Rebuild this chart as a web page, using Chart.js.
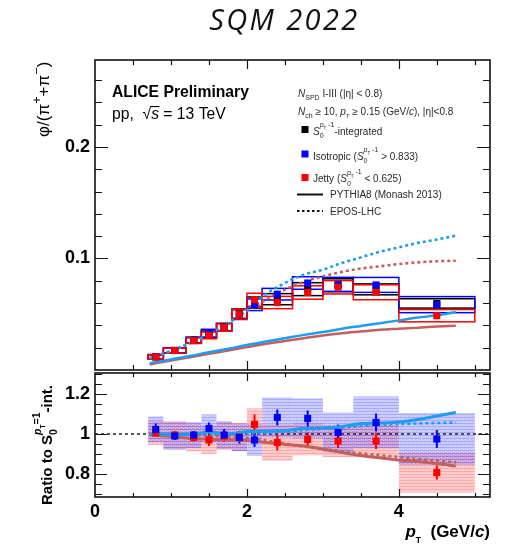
<!DOCTYPE html>
<html>
<head>
<meta charset="utf-8">
<title>phi/pi ratio vs pT</title>
<script src="https://cdn.jsdelivr.net/npm/chart.js@4.4.1/dist/chart.umd.min.js"></script>
<style>
  html, body { margin: 0; padding: 0; background: #fff; }
  #page { position: relative; width: 513px; height: 544px; overflow: hidden; }
  #heading { position: absolute; left: 0; top: 4px; width: 569px; text-align: center;
             font: italic 29px/29px "Open Sans", "DejaVu Sans", sans-serif; letter-spacing: 2.4px; color: #111; }
  canvas { position: absolute; left: 0; }
  #cTop { top: 0; }
  #cRatio { top: 372px; }
</style>
</head>
<body>
<div id="page">
  <canvas id="cTop" width="513" height="372"></canvas>
  <canvas id="cRatio" width="513" height="172"></canvas>
  <div id="heading">SQM 2022</div>
</div>
<script>
// pT bins (GeV/c) and the point positions inside them
const binLow  = [0.7, 0.9, 1.2, 1.4, 1.6, 1.8, 2.0, 2.2, 2.6, 3.0, 3.4, 4.0];
const binHigh = [0.9, 1.2, 1.4, 1.6, 1.8, 2.0, 2.2, 2.6, 3.0, 3.4, 4.0, 5.0];
const ptPoint = [0.8, 1.05, 1.3, 1.5, 1.7, 1.9, 2.1, 2.4, 2.8, 3.2, 3.7, 4.5];

// phi/(pi+ + pi-) yield ratio with systematic uncertainties
const integratedVal = [0.0117, 0.0176, 0.0268, 0.0320, 0.0385, 0.0505, 0.0605, 0.0635, 0.0725, 0.0760, 0.0723, 0.0597];
const integratedSys = [0.0018, 0.0022, 0.0025, 0.0030, 0.0033, 0.0042, 0.0050, 0.0050, 0.0058, 0.0058, 0.0049, 0.0042];
const isotropicVal  = [0.0120, 0.0175, 0.0267, 0.0330, 0.0383, 0.0497, 0.0585, 0.0680, 0.0780, 0.0768, 0.0763, 0.0586];
const isotropicSys  = [0.0019, 0.0023, 0.0027, 0.0035, 0.0034, 0.0044, 0.0052, 0.0052, 0.0056, 0.0063, 0.0067, 0.0072];
const jettyVal      = [0.0117, 0.0174, 0.0263, 0.0310, 0.0382, 0.0500, 0.0630, 0.0605, 0.0695, 0.0742, 0.0697, 0.0487];
const jettySys      = [0.0018, 0.0022, 0.0025, 0.0030, 0.0034, 0.0044, 0.0058, 0.0055, 0.0060, 0.0060, 0.0067, 0.0055];

// ratios to the S0-integrated class
const isoRatio     = [1.023, 0.990, 0.995, 1.028, 0.995, 0.983, 0.970, 1.083, 1.078, 1.008, 1.058, 0.975];
const isoRatioStat = [0.030, 0.020, 0.020, 0.030, 0.030, 0.030, 0.035, 0.040, 0.040, 0.040, 0.045, 0.045];
const isoRatioSys  = [0.065, 0.070, 0.065, 0.070, 0.070, 0.070, 0.080, 0.100, 0.100, 0.100, 0.130, 0.130];
const jetRatio     = [1.005, 0.995, 0.983, 0.970, 0.990, 0.985, 1.048, 0.957, 0.973, 0.965, 0.965, 0.807];
const jetRatioStat = [0.020, 0.020, 0.020, 0.030, 0.030, 0.030, 0.050, 0.040, 0.035, 0.035, 0.040, 0.035];
const jetRatioSys  = [0.060, 0.070, 0.070, 0.070, 0.070, 0.070, 0.080, 0.090, 0.080, 0.080, 0.080, 0.100];

// model predictions
const modelPt     = [0.72, 1.0, 1.25, 1.5, 1.75, 2.0, 2.25, 2.5, 2.75, 3.0, 3.25, 3.5, 3.75, 4.0, 4.25, 4.5, 4.75];
const pythiaIso   = [0.0060, 0.0095, 0.0125, 0.0160, 0.0190, 0.0225, 0.0255, 0.0285, 0.0315, 0.0340, 0.0370, 0.0395, 0.0420, 0.0445, 0.0470, 0.0490, 0.0520];
const pythiaJetty = [0.0050, 0.0085, 0.0115, 0.0145, 0.0175, 0.0205, 0.0235, 0.0260, 0.0285, 0.0310, 0.0330, 0.0345, 0.0360, 0.0370, 0.0380, 0.0390, 0.0397];
const eposIso     = [0.0105, 0.0170, 0.0240, 0.0320, 0.0420, 0.0540, 0.0680, 0.0780, 0.0855, 0.0900, 0.0960, 0.1010, 0.1060, 0.1100, 0.1140, 0.1170, 0.1205];
const eposJetty   = [0.0105, 0.0170, 0.0240, 0.0320, 0.0420, 0.0530, 0.0630, 0.0720, 0.0790, 0.0840, 0.0880, 0.0910, 0.0930, 0.0950, 0.0965, 0.0975, 0.0980];
const pythiaIsoRatio   = [1.000, 0.998, 0.997, 1.010, 1.000, 1.012, 1.014, 1.017, 1.027, 1.030, 1.038, 1.052, 1.055, 1.060, 1.072, 1.090, 1.108];
const pythiaJettyRatio = [0.995, 0.988, 0.978, 0.974, 0.972, 0.968, 0.958, 0.948, 0.940, 0.925, 0.908, 0.893, 0.881, 0.870, 0.862, 0.852, 0.840];
const eposIsoRatio     = [1.000, 1.000, 1.000, 1.000, 1.001, 1.003, 1.006, 1.012, 1.020, 1.026, 1.032, 1.040, 1.045, 1.050, 1.053, 1.055, 1.057];
const eposJettyRatio   = [1.000, 0.998, 0.995, 0.992, 0.988, 0.980, 0.968, 0.952, 0.937, 0.925, 0.914, 0.903, 0.894, 0.885, 0.875, 0.866, 0.858];

// axis ranges and labelled ticks
const ptRange = [0, 5.2];
const unityRef = 1;
const xTickLabels = [0, 2, 4];
const yTickLabelsTop = [0.1, 0.2];
const yTickLabelsRatio = [0.8, 1, 1.2];

const FONT = '"Liberation Sans", Arial, Helvetica, sans-serif';
const LBLUE = '#1f9bef';
const BROWN = '#c2605e';
const pts = (xs, ys) => xs.map((x, i) => ({ x, y: ys[i] }));
const near = (v, list) => list.find(t => Math.abs(t - v) < 1e-6);
// only the listed values get a label
const labelFrom = list => v => { const t = near(v, list); return t === undefined ? null : String(t); };
// fixed axis thickness, no extra room reserved for end labels
const fixWidth = w => s => { s.width = w; s.paddingTop = 0; s.paddingBottom = 0; };
const fixHeight = h => s => { s.height = h; s.paddingLeft = 0; s.paddingRight = 0; };

// draws a run of text pieces with sub/superscripts, returns the width
function richText(ctx, x, y, parts, size, measureOnly) {
  let cx = x;
  for (const [text, o = {}] of parts) {
    const s = size * (o.sc || 1);
    ctx.font = (o.it ? 'italic ' : '') + (o.b ? 'bold ' : '') + s + 'px ' + FONT;
    const w = ctx.measureText(text).width;
    if (!measureOnly) ctx.fillText(text, cx, y + (o.dy || 0) * size);
    if (!o.keep) cx += w;
  }
  return cx - x;
}

// frame with inward ticks on all four sides
function frameTicks(cfg) {
  return {
    id: 'frameTicks',
    afterDatasetsDraw(chart) {
      const { ctx, chartArea: a, scales: { x, y } } = chart;
      ctx.save();
      ctx.strokeStyle = '#111';
      ctx.lineWidth = 1.2;
      ctx.beginPath();
      for (let k = 0; k * cfg.xStep <= x.max + 1e-9; k++) {
        const px = Math.round(x.getPixelForValue(k * cfg.xStep)) + 0.5;
        if (px <= a.left + 1 || px >= a.right - 1) continue;
        const L = (k % cfg.xEvery === 0) ? cfg.xLong : cfg.xShort;
        ctx.moveTo(px, a.bottom); ctx.lineTo(px, a.bottom - L);
        ctx.moveTo(px, a.top); ctx.lineTo(px, a.top + L);
      }
      const k0 = Math.ceil(y.min / cfg.yStep - 1e-9);
      for (let k = k0; k * cfg.yStep <= y.max + 1e-9; k++) {
        const py = Math.round(y.getPixelForValue(k * cfg.yStep)) + 0.5;
        if (py <= a.top + 1 || py >= a.bottom - 1) continue;
        const L = (k % cfg.yEvery === 0) ? cfg.yLong : cfg.yShort;
        ctx.moveTo(a.left, py); ctx.lineTo(a.left + L, py);
        ctx.moveTo(a.right, py); ctx.lineTo(a.right - L, py);
      }
      ctx.stroke();
      ctx.lineWidth = 1.6;
      ctx.strokeRect(a.left, a.top, a.right - a.left, a.bottom - a.top);
      ctx.restore();
    }
  };
}

// systematic boxes and statistical bars behind the markers
function uncertainties(groups) {
  return {
    id: 'uncertainties',
    beforeDatasetsDraw(chart) {
      const { ctx, chartArea: a, scales: { x, y } } = chart;
      ctx.save();
      ctx.beginPath();
      ctx.rect(a.left, a.top, a.right - a.left, a.bottom - a.top);
      ctx.clip();
      for (const g of groups) {
        const fill = g.fill ? g.fill(ctx) : null;
        g.val.forEach((v, i) => {
          const x0 = x.getPixelForValue(binLow[i]), x1 = x.getPixelForValue(binHigh[i]);
          const y0 = y.getPixelForValue(v + g.sys[i]), y1 = y.getPixelForValue(v - g.sys[i]);
          if (fill) { ctx.fillStyle = fill; ctx.fillRect(x0, y0, x1 - x0, y1 - y0); }
          if (g.stroke) {
            ctx.strokeStyle = g.stroke; ctx.lineWidth = 1.5;
            ctx.strokeRect(x0, y0, x1 - x0, y1 - y0);
          }
        });
      }
      for (const g of groups) {
        if (!g.stat) continue;
        ctx.strokeStyle = g.barColor; ctx.lineWidth = 2;
        ctx.beginPath();
        g.val.forEach((v, i) => {
          const px = x.getPixelForValue(ptPoint[i]);
          ctx.moveTo(px, y.getPixelForValue(v + g.stat[i]));
          ctx.lineTo(px, y.getPixelForValue(v - g.stat[i]));
        });
        ctx.stroke();
      }
      ctx.restore();
    }
  };
}

function texture(r, g, b, alpha) {
  return ctx => {
    const c = document.createElement('canvas');
    c.width = 4; c.height = 3;
    const t = c.getContext('2d');
    t.fillStyle = `rgba(${r},${g},${b},${alpha})`;
    t.fillRect(0, 0, 4, 3);
    t.fillStyle = `rgba(${r},${g},${b},${alpha * 0.8})`;
    t.fillRect(0, 0, 4, 1);
    t.fillStyle = 'rgba(255,255,255,0.35)';
    t.fillRect(1, 1, 1, 1); t.fillRect(3, 2, 1, 1);
    return ctx.createPattern(c, 'repeat');
  };
}

const curve = (label, xs, ys, color, dotted, w) => ({
  label, data: pts(xs, ys), showLine: true, borderColor: color, borderWidth: w,
  borderDash: dotted ? [3, 3] : [], pointRadius: 0, cubicInterpolationMode: 'monotone', fill: false
});
const markers = (label, xs, ys, color) => ({
  label, data: pts(xs, ys), showLine: false, pointStyle: 'rect', pointRadius: 5, pointHoverRadius: 5,
  backgroundColor: color, borderColor: color, borderWidth: 0
});

// labels and legend of the upper panel
const topTexts = {
  id: 'topTexts',
  afterDraw(chart) {
    const ctx = chart.ctx;
    ctx.save();
    ctx.fillStyle = '#000';
    ctx.textBaseline = 'alphabetic';
    richText(ctx, 112, 97, [['ALICE Preliminary', { b: 1 }]], 15.7);
    const w1 = richText(ctx, 112, 118.5, [['pp,  √']], 15.7);
    const w2 = richText(ctx, 112 + w1, 118.5, [['s', { it: 1 }]], 15.7);
    ctx.fillRect(112 + w1 - 1, 106, w2 + 1.5, 1.1);
    richText(ctx, 112 + w1 + w2, 118.5, [[' = 13 TeV']], 15.7);

    ctx.fillStyle = '#2a2a2a';
    const S0 = [['S', { it: 1 }], ['0', { sc: 0.7, dy: 0.35, keep: 1 }], ['p', { it: 1, sc: 0.7, dy: -0.75 }],
                ['T', { sc: 0.45, dy: -0.45 }], [' -1', { sc: 0.7, dy: -0.8 }]];
    richText(ctx, 298, 97, [['N', { it: 1 }], ['SPD', { sc: 0.7, dy: 0.3 }], [' I-III (|η| < 0.8)']], 10);
    richText(ctx, 298, 115, [['N', { it: 1 }], ['ch', { sc: 0.7, dy: 0.3 }], [' ≥ 10, '], ['p', { it: 1 }],
              ['T', { sc: 0.6, dy: 0.3 }], [' ≥ 0.15 (GeV/'], ['c', { it: 1 }], ['), |η|<0.8']], 10);
    ctx.fillStyle = '#000'; ctx.fillRect(301.5, 126, 7, 7);
    ctx.fillStyle = '#0000ff'; ctx.fillRect(301.5, 150.5, 7, 7);
    ctx.fillStyle = '#ff0000'; ctx.fillRect(301.5, 174, 7, 7);
    ctx.fillStyle = '#2a2a2a';
    richText(ctx, 313, 134.5, [...S0, ['-integrated']], 10);
    richText(ctx, 313, 159.5, [['Isotropic ('], ...S0, [' > 0.833)']], 10);
    richText(ctx, 313, 182, [['Jetty ('], ...S0, [' < 0.625)']], 10);
    richText(ctx, 330, 198, [['PYTHIA8 (Monash 2013)']], 10);
    richText(ctx, 330, 214.5, [['EPOS-LHC']], 10);
    ctx.strokeStyle = '#111'; ctx.lineWidth = 2;
    ctx.beginPath(); ctx.moveTo(297, 194.5); ctx.lineTo(323, 194.5); ctx.stroke();
    ctx.setLineDash([2.5, 2.5]);
    ctx.beginPath(); ctx.moveTo(297, 211); ctx.lineTo(323, 211); ctx.stroke();
    ctx.setLineDash([]);

    ctx.fillStyle = '#000';
    ctx.translate(49, 137);
    ctx.rotate(-Math.PI / 2);
    richText(ctx, 0, 0, [['φ/(π'], ['+', { sc: 0.75, dy: -0.5 }], ['+π'], ['−', { sc: 0.75, dy: -0.5 }], [')']], 17);
    ctx.restore();
  }
};

// axis titles of the lower panel
const ratioTexts = {
  id: 'ratioTexts',
  afterDraw(chart) {
    const ctx = chart.ctx;
    ctx.save();
    ctx.fillStyle = '#000';
    const xt = [['p', { it: 1, b: 1 }], ['T', { b: 1, sc: 0.5, dy: 0.35 }], ['  (GeV/', { b: 1 }], ['c', { it: 1, b: 1 }], [')', { b: 1 }]];
    const w = richText(ctx, 0, 0, xt, 17, true);
    richText(ctx, chart.chartArea.right - w, 165, xt, 17);
    ctx.translate(52, 133);
    ctx.rotate(-Math.PI / 2);
    richText(ctx, 0, 0, [['Ratio to S', { b: 1 }], ['0', { b: 1, sc: 0.7, dy: 0.3, keep: 1 }],
                         ['p', { b: 1, it: 1, sc: 0.7, dy: -0.75 }], ['T', { b: 1, sc: 0.45, dy: -0.45 }],
                         ['=1', { b: 1, sc: 0.7, dy: -0.8 }], ['-int.', { b: 1 }]], 15);
    ctx.restore();
  }
};

const tickFont = { family: FONT, size: 18, weight: 'bold' };
const baseOpts = {
  responsive: false, animation: false, devicePixelRatio: 1, events: [],
  plugins: { legend: { display: false }, tooltip: { enabled: false } }
};

new Chart(document.getElementById('cTop'), {
  type: 'scatter',
  data: {
    datasets: [
      markers('Jetty', ptPoint, jettyVal, '#ff0000'),
      markers('Isotropic', ptPoint, isotropicVal, '#0000ff'),
      markers('S0-integrated', ptPoint, integratedVal, '#000000'),
      curve('PYTHIA8 isotropic', modelPt, pythiaIso, LBLUE, false, 2.5),
      curve('PYTHIA8 jetty', modelPt, pythiaJetty, BROWN, false, 2.5),
      curve('EPOS-LHC isotropic', modelPt, eposIso, LBLUE, true, 2.6),
      curve('EPOS-LHC jetty', modelPt, eposJetty, BROWN, true, 2.6)
    ]
  },
  options: {
    ...baseOpts,
    layout: { autoPadding: false, padding: { left: 0, right: 23, top: 60, bottom: 2 } },
    scales: {
      x: { type: 'linear', min: ptRange[0], max: ptRange[1], display: false },
      y: {
        type: 'linear', min: 0, max: 0.278,
        afterFit: fixWidth(95),
        grid: { display: false, drawTicks: false }, border: { display: false },
        ticks: { stepSize: 0.02, autoSkip: false, padding: 5, color: '#000', font: tickFont,
                 callback: labelFrom(yTickLabelsTop) }
      }
    }
  },
  plugins: [
    uncertainties([
      { val: integratedVal, sys: integratedSys, stroke: '#000000' },
      { val: isotropicVal, sys: isotropicSys, stroke: '#0000ff' },
      { val: jettyVal, sys: jettySys, stroke: '#ff0000' }
    ]),
    frameTicks({ xStep: 0.5, xEvery: 4, xLong: 9, xShort: 5, yStep: 0.02, yEvery: 5, yLong: 13, yShort: 7 }),
    topTexts
  ]
});

new Chart(document.getElementById('cRatio'), {
  type: 'scatter',
  data: {
    datasets: [
      markers('Isotropic / integrated', ptPoint, isoRatio, '#0000ff'),
      markers('Jetty / integrated', ptPoint, jetRatio, '#ff0000'),
      curve('PYTHIA8 isotropic', modelPt, pythiaIsoRatio, LBLUE, false, 3),
      curve('PYTHIA8 jetty', modelPt, pythiaJettyRatio, BROWN, false, 3),
      curve('EPOS-LHC isotropic', modelPt, eposIsoRatio, LBLUE, true, 2.6),
      curve('EPOS-LHC jetty', modelPt, eposJettyRatio, BROWN, true, 2.6),
      { label: 'unity', data: pts(ptRange, [unityRef, unityRef]), showLine: true, borderColor: '#222',
        borderWidth: 1.5, borderDash: [3, 3], pointRadius: 0 }
    ]
  },
  options: {
    ...baseOpts,
    layout: { autoPadding: false, padding: { left: 0, right: 23, top: 1, bottom: 0 } },
    scales: {
      x: {
        type: 'linear', min: ptRange[0], max: ptRange[1],
        afterFit: fixHeight(47),
        grid: { display: false, drawTicks: false }, border: { display: false },
        ticks: { stepSize: 0.5, autoSkip: false, maxRotation: 0, padding: 4, color: '#000', font: tickFont,
                 callback: labelFrom(xTickLabels) }
      },
      y: {
        type: 'linear', min: 0.685, max: 1.305,
        afterFit: fixWidth(95),
        grid: { display: false, drawTicks: false }, border: { display: false },
        ticks: { stepSize: 0.05, autoSkip: false, padding: 5, color: '#000', font: tickFont,
                 callback: labelFrom(yTickLabelsRatio) }
      }
    }
  },
  plugins: [
    uncertainties([
      { val: jetRatio, sys: jetRatioSys, stat: jetRatioStat, fill: texture(255, 70, 70, 0.3), barColor: '#ff0000' },
      { val: isoRatio, sys: isoRatioSys, stat: isoRatioStat, fill: texture(70, 70, 255, 0.3), barColor: '#0000ff' }
    ]),
    frameTicks({ xStep: 0.5, xEvery: 4, xLong: 8, xShort: 4, yStep: 0.05, yEvery: 4, yLong: 12, yShort: 7 }),
    ratioTexts
  ]
});
</script>
</body>
</html>
